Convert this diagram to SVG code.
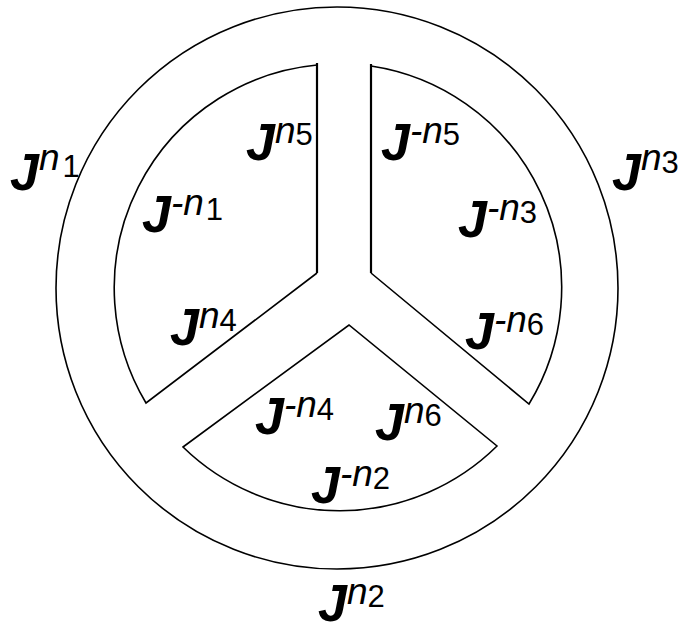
<svg xmlns="http://www.w3.org/2000/svg" width="683" height="632" viewBox="0 0 683 632">
<style>
.ln{fill:none;stroke:#000;stroke-width:1.6}
.vl{fill:none;stroke:#000;stroke-width:2.2}
text{font-family:"Liberation Sans",Arial,sans-serif;fill:#000}
.J{font-size:52px;font-style:italic;font-weight:bold}
.n{font-size:37px;font-style:italic}
.d{font-size:31px}
</style>
<rect width="683" height="632" fill="#fff"/>
<g id="shapes">
<circle id="outer" class="ln" cx="337" cy="288" r="281"/>
<path id="sector-left" class="ln" d="M317,273 L146,403 A224,224 0 0,1 317,65"/>
<path id="sector-right" class="ln" d="M371,273 L529,404 A224,224 0 0,0 371,66"/>
<path id="sector-bottom" class="ln" d="M183,447 L349,325 L497,446 A224,224 0 0,1 183,447 Z"/>
<line class="vl" x1="317" y1="63" x2="317" y2="273"/>
<line class="vl" x1="371" y1="64" x2="371" y2="273"/>
</g>
<g id="labels">
<text id="l-n1" x="10" y="190"><tspan class="J">J</tspan><tspan class="n" dy="-20">n</tspan><tspan class="d" dx="3" dy="7">1</tspan></text>
<text id="l-n3" x="612" y="190"><tspan class="J">J</tspan><tspan class="n" dy="-20">n</tspan><tspan class="d" dy="3">3</tspan></text>
<text id="l-n5" x="246" y="160"><tspan class="J">J</tspan><tspan class="n" dy="-17">n</tspan><tspan class="d" dy="2">5</tspan></text>
<text id="l-mn5" x="381" y="160"><tspan class="J">J</tspan><tspan class="n" dy="-17">-n</tspan><tspan class="d" dy="2">5</tspan></text>
<text id="l-mn1" x="142" y="232"><tspan class="J">J</tspan><tspan class="n" dy="-17">-n</tspan><tspan class="d" dx="2" dy="5">1</tspan></text>
<text id="l-mn3" x="458" y="237"><tspan class="J">J</tspan><tspan class="n" dy="-17">-n</tspan><tspan class="d" dy="3">3</tspan></text>
<text id="l-n4" x="170" y="345"><tspan class="J">J</tspan><tspan class="n" dy="-17">n</tspan><tspan class="d" dy="3">4</tspan></text>
<text id="l-mn6" x="465" y="349"><tspan class="J">J</tspan><tspan class="n" dy="-17">-n</tspan><tspan class="d" dy="3">6</tspan></text>
<text id="l-mn4" x="255" y="434"><tspan class="J">J</tspan><tspan class="n" dy="-17">-n</tspan><tspan class="d" dy="3">4</tspan></text>
<text id="l-n6" x="375" y="440"><tspan class="J">J</tspan><tspan class="n" dy="-17">n</tspan><tspan class="d" dy="3">6</tspan></text>
<text id="l-mn2" x="311" y="503"><tspan class="J">J</tspan><tspan class="n" dy="-17">-n</tspan><tspan class="d" dy="3">2</tspan></text>
<text id="l-n2" x="318" y="621"><tspan class="J">J</tspan><tspan class="n" dy="-17">n</tspan><tspan class="d" dy="3">2</tspan></text>
</g>
</svg>
